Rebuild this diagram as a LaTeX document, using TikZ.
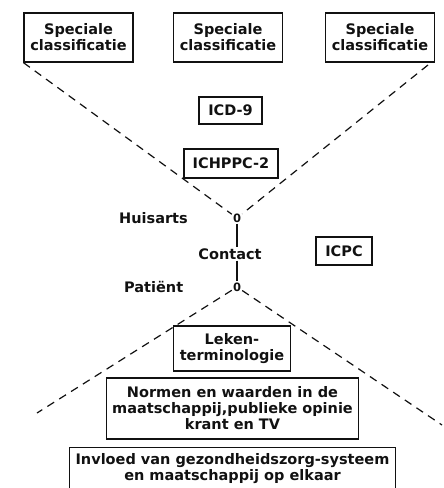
\documentclass[tikz,border=0pt]{standalone}
\usepackage{fontspec}
\setmainfont{DejaVu Sans}
\usepackage{tikz}
\usetikzlibrary{positioning}
\definecolor{ink}{HTML}{111111}
\tikzset{
  box/.style={draw=ink, line width=1.2pt, align=center, inner xsep=6pt, inner ysep=4pt, text=ink, font=\fontsize{14.5}{16}\selectfont\bfseries},
  lab/.style={text=ink, inner sep=1pt, font=\fontsize{14.5}{16}\selectfont\bfseries},
  zero/.style={text=ink, inner sep=1pt, font=\fontsize{11.5}{12}\selectfont\bfseries},
  help/.style={draw=ink, line width=1.2pt, dash pattern=on 8pt off 6pt},
  base/.style={draw=ink, line width=1.2pt},
}
\begin{document}
\begin{tikzpicture}[x=1pt,y=-1pt]
  \clip (0,0) rectangle (444,488);
  % bovenste rij
  \node[box,minimum width=109pt,minimum height=49pt] (sc1) at (78.5,37.5) {Speciale\\classificatie};
  \node[box,minimum width=106pt,minimum height=49pt] (sc2) at (228,37.5) {Speciale\\classificatie};
  \node[box,minimum width=108pt,minimum height=49pt] (sc3) at (380,37.5) {Speciale\\classificatie};
  \node[box,minimum width=63pt,minimum height=27pt] (icd) at (230.5,110.5) {ICD-9};
  \node[box,minimum width=94pt,minimum height=29pt] (ichppc) at (231,163.5) {ICHPPC-2};
  % contact
  \node[zero] (hu0) at (237,218) {0};
  \node[zero] (pa0) at (237,287) {0};
  \node[lab] (contact) at (230,254) {Contact};
  \node[lab,anchor=east] (huisarts) at (189,218) {Huisarts};
  \node[lab,anchor=west] (patient) at (123,287) {Patiënt};
  \node[box,minimum width=56pt,minimum height=28pt] (icpc) at (344,251) {ICPC};
  % onderste rij
  \node[box,minimum width=110pt,minimum height=45pt] (leken) at (232,348.5) {Leken-\\terminologie};
  \node[box,minimum width=251pt,minimum height=61pt] (normen) at (232.5,408.5) {Normen en waarden in de\\maatschappij,publieke opinie\\krant en TV};
  \node[box,anchor=north,inner ysep=6pt,text depth=24pt,minimum width=321pt] (invloed) at (232.5,447) {Invloed van gezondheidszorg-systeem\\en maatschappij op elkaar};
  \coordinate (ll) at (37,413);
  \coordinate (lr) at (442,425);
  \coordinate (ur) at (428,65);
  \draw[help] (sc1.south west) -- (hu0);
  \draw[help] (ur) -- (hu0);
  \draw[help] (pa0) -- (ll);
  \draw[help] (pa0) -- (lr);
  \draw[base] (hu0) -- (hu0 |- contact.north);
  \draw[base] (hu0 |- contact.south) -- (pa0);
\end{tikzpicture}
\end{document}
